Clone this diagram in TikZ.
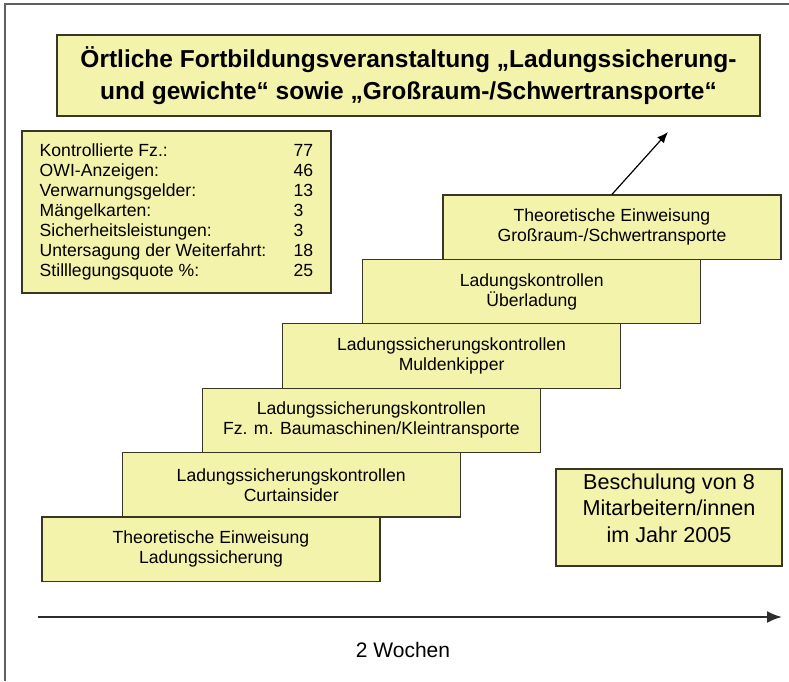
\documentclass[tikz,border=0pt]{standalone}
\usepackage{fontspec}
\setmainfont{Liberation Sans}
\usetikzlibrary{arrows.meta}

\definecolor{boxyellow}{RGB}{244,243,172}
\definecolor{boxedge}{RGB}{55,55,35}
\definecolor{axisgray}{RGB}{45,45,45}
\definecolor{framegray}{RGB}{95,95,95}

\begin{document}
\begin{tikzpicture}[x=1pt,y=-1pt,
  box/.style={draw=boxedge, line width=1.3pt, fill=boxyellow, inner sep=0pt, align=center},
  stepbox/.style={box, minimum width=338pt, minimum height=64.4pt, font=\fontsize{17.6}{20}\selectfont},
  timeline/.style={draw=axisgray, line width=2.2pt, -{Latex[length=15pt,width=12pt]}}]

\useasboundingbox (0,0) rectangle (789,681);

% Outer frame (cut off at right and bottom)
\draw [framegray, line width=1.5pt] (5,681) -- (5,4) -- (789,4);

% Title
\node [box, minimum width=703pt, minimum height=81pt, font=\bfseries\fontsize{24.5}{32}\selectfont] (title) at (408.5,75.5)
  {Örtliche Fortbildungsveranstaltung „Ladungssicherung-\\und gewichte“ sowie „Großraum-/Schwertransporte“};

% Statistics
\node [box, minimum width=309pt, minimum height=162pt, font=\fontsize{17.6}{20}\selectfont] (stats) at (176.5,212) {%
  \begin{tabular}{@{}p{254pt}@{}l@{}}
  Kontrollierte Fz.: & 77\\
  OWI-Anzeigen: & 46\\
  Verwarnungsgelder: & 13\\
  Mängelkarten: & 3\\
  Sicherheitsleistungen: & 3\\
  Untersagung der Weiterfahrt: & 18\\
  Stilllegungsquote \%: & 25
  \end{tabular}};

% Staircase of training steps
\node [stepbox] (step6) at (612,227.2) {Theoretische Einweisung\\Großraum-/Schwertransporte};
\node [stepbox] (step5) at (531.8,291.6) {Ladungskontrollen\\Überladung};
\node [stepbox] (step4) at (451.6,356) {Ladungssicherungskontrollen\\Muldenkipper};
\node [stepbox] (step3) at (371.4,420.4) {Ladungssicherungskontrollen\\Fz. m. Baumaschinen/Kleintransporte};
\node [stepbox] (step2) at (291.2,484.8) {Ladungssicherungskontrollen\\Curtainsider};
\node [stepbox] (step1) at (211,549.2) {Theoretische Einweisung\\Ladungssicherung};

% Arrow towards the title
\coordinate (goal) at (668,132);
\draw [-{Latex[length=11pt,width=9pt]}, line width=1.2pt] (step6.north) -- (goal);

% Summary
\node [box, minimum width=226pt, minimum height=97pt, text depth=19pt, font=\fontsize{21.6}{26.5}\selectfont] (summary) at (669,517.5)
  {Beschulung von 8\\Mitarbeitern/innen\\im Jahr 2005};

% Time axis
\coordinate (tstart) at (38,617);
\coordinate (tend) at (782,617);
\draw [timeline] (tstart) -- (tend);
\node [font=\fontsize{21}{25}\selectfont] (weeks) at (403,650) {2 Wochen};

\end{tikzpicture}
\end{document}
